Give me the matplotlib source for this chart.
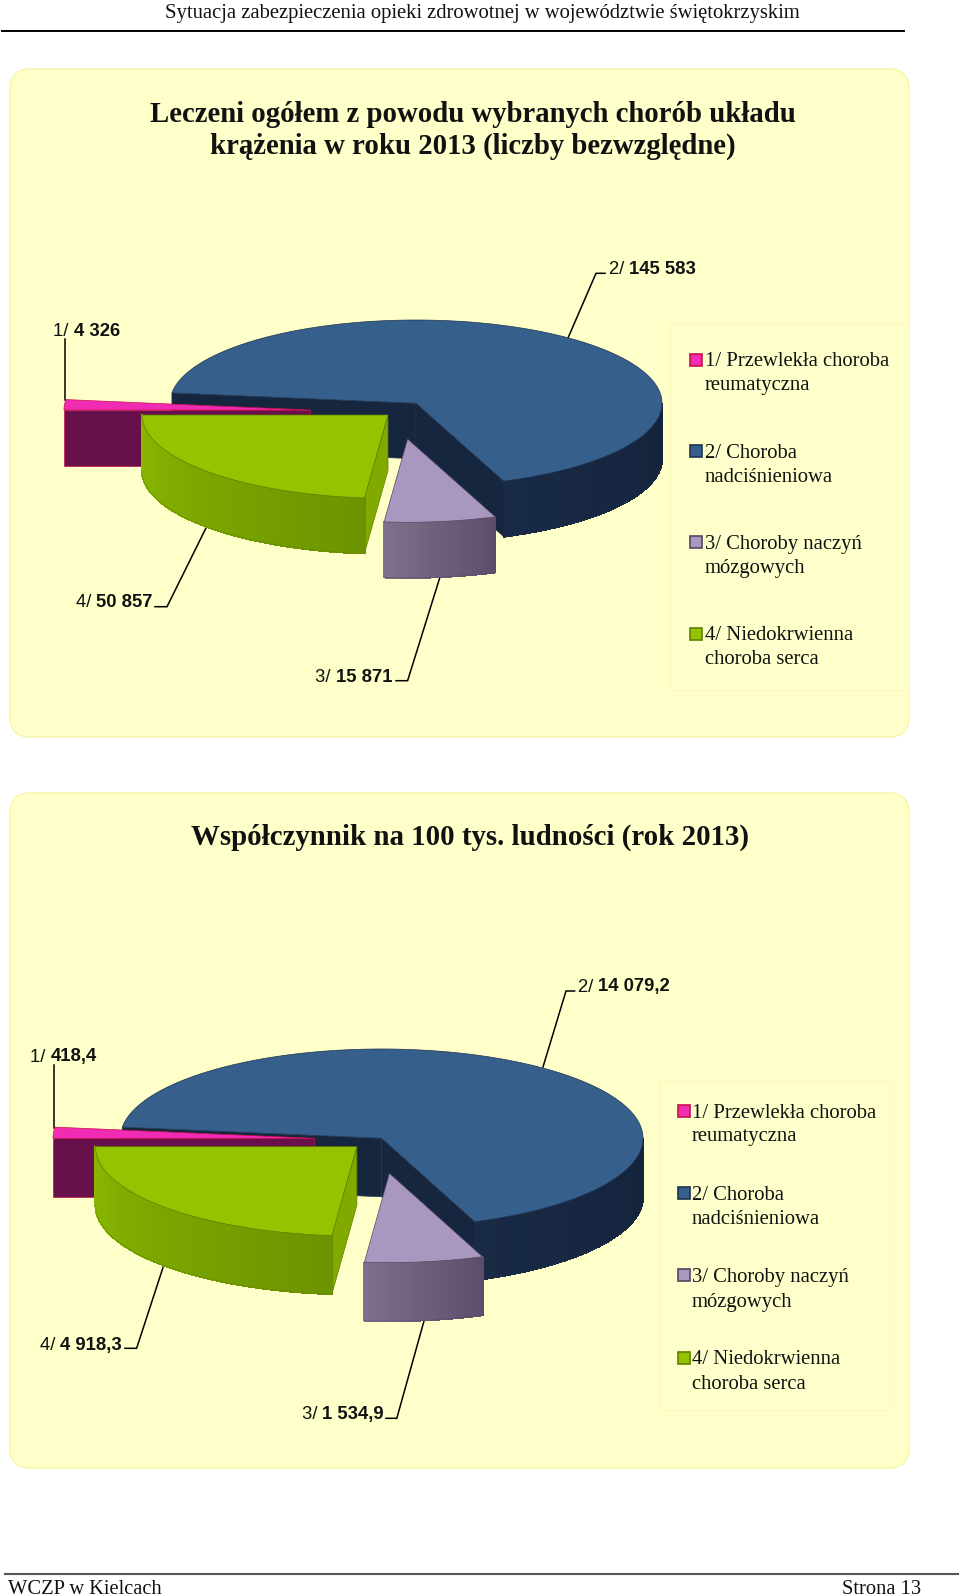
import numpy as np
import matplotlib
matplotlib.use("Agg")
import matplotlib.pyplot as plt
from matplotlib.patches import FancyBboxPatch, Polygon, Rectangle
from matplotlib.colors import to_rgb

# chart values
abs_values = [4326, 145583, 15871, 50857]
rate_values = [418.4, 14079.2, 1534.9, 4918.3]
abs_labels = ["4 326", "145 583", "15 871", "50 857"]
rate_labels = ["418,4", "14 079,2", "1 534,9", "4 918,3"]
legend_names = [
    ["1/ Przewlekła choroba", "reumatyczna"],
    ["2/ Choroba", "nadciśnieniowa"],
    ["3/ Choroby naczyń", "mózgowych"],
    ["4/ Niedokrwienna", "choroba serca"],
]

top_colors = ["#F02CB4", "#365F8C", "#A897BE", "#94C300"]
edge_colors = ["#C8104A", "#1E3350", "#54465F", "#5E7F00"]
wall_left = ["#68104C", "#192A46", "#7F708D", "#8BB800"]
wall_right = ["#68104C", "#14233B", "#5D4F6C", "#6C9400"]
cut_colors = ["#68104C", "#16263F", "#5D4F6C", "#82A900"]

SERIF = "Liberation Serif"
SANS = "Liberation Sans"

fig = plt.figure(figsize=(9.6, 15.96), dpi=100)
ax = fig.add_axes([0, 0, 1, 1])
ax.set_xlim(0, 960)
ax.set_ylim(1596, 0)
ax.axis("off")


def point(cx, cy, rx, ry, angle):
    a = np.radians(angle)
    return cx + rx * np.cos(a), cy - ry * np.sin(a)


def draw_cut(cx, cy, rx, ry, depth, angle, color, edge, z):
    x, y = point(cx, cy, rx, ry, angle)
    ax.add_patch(Polygon([(cx, cy), (x, y), (x, y + depth), (cx, cy + depth)],
                         facecolor=color, edgecolor=edge, lw=0.5, zorder=z))


def draw_slice(i, start, end, cx, cy, rx, ry, depth, z):
    # start > end, angles run clockwise
    edge = edge_colors[i]
    # cut faces that look towards the viewer
    if i == 0 or i == 3:
        draw_cut(cx, cy, rx, ry, depth, start, cut_colors[i], edge, z)
    if i == 1:
        draw_cut(cx, cy, rx, ry, depth, start, cut_colors[i], "#24344F", z)
        draw_cut(cx, cy, rx, ry, depth, end, cut_colors[i], "#24344F", z)

    # outer wall, front half only, in thin strips for the shading
    a0 = min(start, 0)
    a1 = max(end, -180)
    if a0 > a1:
        angles = np.linspace(a1, a0, 60)
        c0 = np.array(to_rgb(wall_left[i]))
        c1 = np.array(to_rgb(wall_right[i]))
        for k in range(len(angles) - 1):
            xa, ya = point(cx, cy, rx, ry, angles[k])
            xb, yb = point(cx, cy, rx, ry, angles[k + 1])
            col = c0 + (c1 - c0) * k / (len(angles) - 2)
            ax.add_patch(Polygon([(xa, ya), (xb, yb), (xb, yb + depth), (xa, ya + depth)],
                                 facecolor=col, edgecolor=col, lw=0.8, antialiased=False, zorder=z))
        xs, ys = point(cx, cy, rx, ry, angles)
        ax.plot(xs, ys + depth, color=edge, lw=0.5, alpha=0.6, zorder=z + 0.1)
        ax.plot([xs[-1], xs[-1]], [ys[-1], ys[-1] + depth], color=edge, lw=0.4, alpha=0.6, zorder=z + 0.1)

    # top face
    angles = np.linspace(start, end, 200)
    xs, ys = point(cx, cy, rx, ry, angles)
    verts = [(cx, cy)] + list(zip(xs, ys))
    ax.add_patch(Polygon(verts, facecolor=top_colors[i], edgecolor=edge, lw=0.5, zorder=z + 0.2))


def draw_pie(values, cx, cy, rx, ry, depth, offsets):
    total = sum(values)
    angle = 180.0
    order = [1, 0, 3, 2]
    spans = []
    for v in values:
        spans.append((angle, angle - v / total * 360))
        angle = spans[-1][1]
    for z, i in enumerate(order):
        s, e = spans[i]
        dx, dy = offsets[i]
        draw_slice(i, s, e, cx + dx, cy + dy, rx, ry, depth, 3 + z)


def value_label(x, y, head, value, ha="left"):
    # regular prefix followed by the bold number
    r = fig.canvas.get_renderer()
    t1 = ax.text(x, y, head, family=SANS, fontsize=13.3, va="center", ha="left", color="#111111", zorder=20)
    w1 = t1.get_window_extent(r).width
    t2 = ax.text(x + w1, y, value, family=SANS, fontsize=13.3, fontweight="bold", va="center",
                 ha="left", color="#111111", zorder=20)
    w2 = t2.get_window_extent(r).width
    if ha == "right":
        t1.set_x(x - w1 - w2)
        t2.set_x(x - w2)


def leader(xs, ys):
    ax.plot(xs, ys, color="black", lw=1.1, zorder=2, solid_joinstyle="miter")


def draw_legend(x_box, y_box, w_box, h_box, x_mark, x_text, line_y):
    ax.add_patch(Rectangle((x_box, y_box), w_box, h_box, facecolor="#FFFFCB",
                           edgecolor="#FBFBBE", lw=0.8, zorder=1))
    for i, names in enumerate(legend_names):
        y1, y2 = line_y[i]
        ax.add_patch(Rectangle((x_mark, y1 - 6.5), 12, 12, facecolor=top_colors[i],
                               edgecolor=edge_colors[i], lw=1.2, zorder=2))
        ax.text(x_text, y1 + 2, names[0], family=SERIF, fontsize=14.9, va="center", color="#111111", zorder=3)
        ax.text(x_text, y2 + 2, names[1], family=SERIF, fontsize=14.9, va="center", color="#111111", zorder=3)


# header and footer
ax.text(482, 13.5, "Sytuacja zabezpieczenia opieki zdrowotnej w województwie świętokrzyskim",
        family=SERIF, fontsize=14.85, ha="center", va="center", color="#111111")
ax.plot([2, 904], [30.5, 30.5], color="black", lw=1.4)
ax.plot([5, 958], [1573.7, 1573.7], color="#555555", lw=1.5)
ax.text(8, 1594.5, "WCZP w Kielcach", family=SERIF, fontsize=14.8, va="baseline", color="#111111")
ax.text(921, 1594.5, "Strona 13", family=SERIF, fontsize=14.8, va="baseline", ha="right", color="#111111")

# panels
for y0, y1 in [(69, 737), (793, 1468)]:
    ax.add_patch(FancyBboxPatch((10, y0), 899, y1 - y0, boxstyle="round,pad=0,rounding_size=20",
                                facecolor="#FFFFC9", edgecolor="#F6F6A6", lw=1.0, zorder=0))

# first chart
ax.text(473, 114, "Leczeni ogółem z powodu wybranych chorób układu", family=SERIF, fontsize=20.7,
        fontweight="bold", ha="center", va="center", color="#111111")
ax.text(473, 146.5, "krążenia w roku 2013 (liczby bezwzględne)", family=SERIF, fontsize=20.7,
        fontweight="bold", ha="center", va="center", color="#111111")
draw_pie(abs_values, 416, 403.3, 246, 83.3, 55.5,
         [(-106, 6.7), (0, 0), (-8.4, 35.7), (-28, 11.7)])
leader([65, 65], [339, 400])
leader([568, 596, 605], [338, 273.3, 273.3])
leader([440, 407.6, 396], [577, 680.7, 680.7])
leader([206, 167, 155], [528, 606.7, 606.7])
value_label(53, 332, "1/ ", abs_labels[0])
value_label(609, 269.5, "2/ ", abs_labels[1])
value_label(392, 677, "3/ ", abs_labels[2], ha="right")
value_label(153, 602.5, "4/ ", abs_labels[3], ha="right")
draw_legend(670, 323, 239, 367, 689.5, 705,
            [(360, 383.5), (451, 475), (542.5, 566.5), (634, 658)])

# second chart
ax.text(470, 837, "Współczynnik na 100 tys. ludności (rok 2013)", family=SERIF, fontsize=20.8,
        fontweight="bold", ha="center", va="center", color="#111111")
draw_pie(rate_values, 381.6, 1138.3, 261.4, 89.3, 58.5,
         [(-67.2, 0), (0, 0), (7.8, 35), (-24.7, 8.4)])
leader([53.8, 53.8], [1065, 1128])
leader([543, 566, 574.6], [1067, 991, 991])
leader([424, 396.8, 386], [1321, 1418.3, 1418.3])
leader([163.5, 136.6, 125], [1266, 1348.3, 1348.3])
value_label(30, 1057, "1/ ", rate_labels[0])
value_label(578, 987, "2/ ", rate_labels[1])
value_label(384, 1414.5, "3/ ", rate_labels[2], ha="right")
value_label(122, 1345.5, "4/ ", rate_labels[3], ha="right")
draw_legend(660, 1081, 233, 329, 678, 692,
            [(1111, 1135), (1193, 1217.5), (1275.5, 1300), (1358, 1382.5)])

fig.savefig("out.png", dpi=100, facecolor="white")
